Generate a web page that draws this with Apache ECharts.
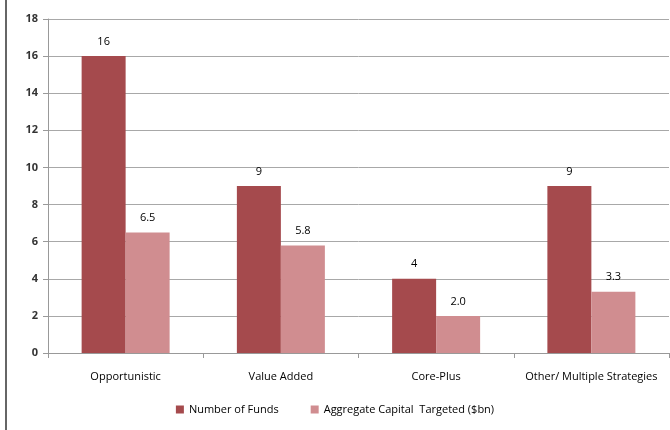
<!DOCTYPE html>
<html>
<head>
<meta charset="utf-8">
<script src="https://cdn.jsdelivr.net/npm/echarts@6/dist/echarts.min.js"></script>
<style>
  html, body { margin: 0; padding: 0; background: #fff; }
  #chart { width: 670px; height: 430px; }
</style>
</head>
<body>
<div id="chart"></div>
<script>
var categories = ['Opportunistic', 'Value Added', 'Core-Plus', 'Other/ Multiple Strategies'];
var numberOfFunds = [16, 9, 4, 9];
var capitalTargeted = [6.5, 5.8, 2.0, 3.3];
var seriesNames = ['Number of Funds', 'Aggregate Capital  Targeted ($bn)'];

var chart = echarts.init(document.getElementById('chart'));

var labelFont = { fontFamily: 'Open Sans, sans-serif', fontSize: 11, color: '#000' };

var option = {
  animation: false,
  graphic: [
    { type: 'line', shape: { x1: 6, y1: 0, x2: 6, y2: 430 }, style: { stroke: '#333', lineWidth: 1.5 } }
  ],
  grid: { left: 48, right: 1, top: 19, bottom: 77, containLabel: false },
  legend: {
    bottom: 10,
    left: 'center',
    itemWidth: 8,
    itemHeight: 8,
    itemGap: 32,
    icon: 'rect',
    textStyle: { fontFamily: 'Open Sans, sans-serif', fontSize: 11, color: '#000' },
    data: seriesNames
  },
  xAxis: {
    type: 'category',
    data: categories,
    axisLine: { lineStyle: { color: '#999' } },
    axisTick: { show: true, length: 5, lineStyle: { color: '#999' } },
    axisLabel: { margin: 18, interval: 0, fontFamily: 'Open Sans, sans-serif', fontSize: 11, color: '#000' }
  },
  yAxis: {
    type: 'value',
    min: 0,
    max: 18,
    interval: 2,
    axisLine: { show: true, lineStyle: { color: '#999' } },
    axisTick: { show: true, length: 5, lineStyle: { color: '#999' } },
    axisLabel: { margin: 10, fontFamily: 'Open Sans, sans-serif', fontSize: 11, fontWeight: 'bold', color: '#333' },
    splitLine: { show: true, lineStyle: { color: '#a8a8a8' } }
  },
  series: [
    {
      name: seriesNames[0],
      type: 'bar',
      data: numberOfFunds,
      barWidth: 44,
      barGap: '0%',
      itemStyle: { color: '#a54a4d' },
      label: { show: true, position: 'top', distance: 9, formatter: '{c}', ...labelFont }
    },
    {
      name: seriesNames[1],
      type: 'bar',
      data: capitalTargeted,
      barWidth: 44,
      barGap: '0%',
      itemStyle: { color: '#d08d90' },
      label: {
        show: true, position: 'top', distance: 9,
        formatter: function (p) { return p.value.toFixed(1); },
        ...labelFont
      }
    }
  ]
};

chart.setOption(option);
</script>
</body>
</html>
